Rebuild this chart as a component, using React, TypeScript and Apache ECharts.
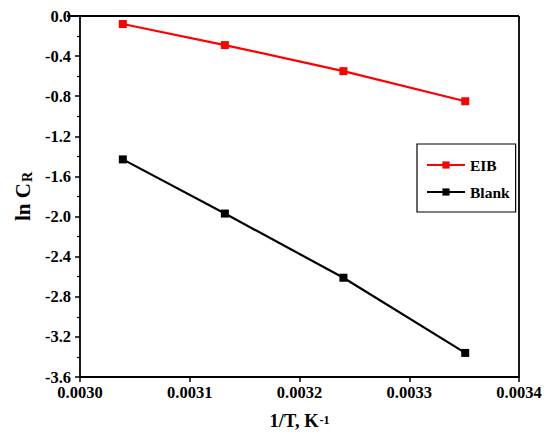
import React, { useEffect, useRef } from "react";
import * as echarts from "echarts";

const xValues = [0.003039, 0.003132, 0.00324, 0.003351];
const eibValues = [-0.08, -0.29, -0.55, -0.85];
const blankValues = [-1.43, -1.97, -2.61, -3.36];
const seriesNames = ["EIB", "Blank"];
const seriesColors = ["#ff0000", "#000000"];

const FONT = "'Liberation Serif', 'Times New Roman', serif";

export default function App() {
  const ref = useRef<HTMLDivElement>(null);
  useEffect(() => {
    if (!ref.current) return;
    const chart = echarts.init(ref.current, null, { renderer: "svg" });
    const mk = (vals: number[]) => xValues.map((x, i) => [x, vals[i]]);
    chart.setOption({
      animation: false,
      backgroundColor: "#ffffff",
      grid: { left: 67, right: 31, top: 16, bottom: 59, show: false },
      legend: {
        orient: "vertical",
        left: 417,
        top: 144,
        padding: [13, 6, 12, 9],
        borderColor: "#000",
        borderWidth: 1.2,
        itemWidth: 38,
        itemHeight: 9,
        itemGap: 11,
        textStyle: { fontFamily: FONT, fontWeight: "bold", fontSize: 15.5, color: "#000" },
        data: seriesNames,
      },
      xAxis: {
        type: "value",
        min: 0.003,
        max: 0.0034,
        interval: 0.0001,
        name: "{a|1/T, K}{b|-1}",
        nameLocation: "middle",
        nameGap: 25,
        nameTextStyle: {
          rich: {
            a: { fontFamily: FONT, fontWeight: "bold", fontSize: 18.5, color: "#000", lineHeight: 20, verticalAlign: "bottom", padding: [6, 0, 0, 0] },
            b: { fontFamily: FONT, fontWeight: "bold", fontSize: 12, color: "#000", lineHeight: 12, verticalAlign: "top", padding: [3, 0, 0, 1] },
          },
        },
        axisLine: { show: true, onZero: false, lineStyle: { color: "#000", width: 1.8 } },
        axisTick: { show: true, inside: false, length: 5, lineStyle: { color: "#000", width: 1.5 } },
        minorTick: { show: false },
        splitLine: { show: false },
        axisLabel: {
          margin: 7,
          fontFamily: FONT,
          fontWeight: "bold",
          fontSize: 16.5,
          color: "#000",
          formatter: (v: number) => v.toFixed(4),
        },
      },
      yAxis: {
        type: "value",
        min: -3.6,
        max: 0,
        interval: 0.4,
        name: "{a|ln C}{b|R}",
        nameLocation: "middle",
        nameRotate: 90,
        nameGap: 44,
        nameTextStyle: {
          rich: {
            a: { fontFamily: FONT, fontWeight: "bold", fontSize: 21, color: "#000", lineHeight: 22, verticalAlign: "top" },
            b: { fontFamily: FONT, fontWeight: "bold", fontSize: 14, color: "#000", lineHeight: 14, verticalAlign: "bottom", padding: [12, 0, 0, 1] },
          },
        },
        axisLine: { show: true, onZero: false, lineStyle: { color: "#000", width: 1.8 } },
        axisTick: { show: true, inside: false, length: 5, lineStyle: { color: "#000", width: 1.5 } },
        minorTick: { show: true, splitNumber: 2, length: 3, lineStyle: { color: "#000", width: 1.2 } },
        splitLine: { show: false },
        axisLabel: {
          margin: 9,
          fontFamily: FONT,
          fontWeight: "bold",
          fontSize: 16.5,
          color: "#000",
          formatter: (v: number) => v.toFixed(1),
        },
      },
      graphic: [
        {
          type: "line",
          shape: { x1: 67, y1: 16, x2: 519, y2: 16 },
          style: { stroke: "#000", lineWidth: 1.8 },
        },
        {
          type: "line",
          shape: { x1: 519, y1: 16, x2: 519, y2: 377 },
          style: { stroke: "#000", lineWidth: 1.8 },
        },
      ],
      series: [
        {
          name: seriesNames[0],
          type: "line",
          data: mk(eibValues),
          symbol: "rect",
          symbolSize: 8,
          color: seriesColors[0],
          lineStyle: { width: 2.2, color: seriesColors[0] },
          itemStyle: { color: seriesColors[0] },
        },
        {
          name: seriesNames[1],
          type: "line",
          data: mk(blankValues),
          symbol: "rect",
          symbolSize: 8,
          color: seriesColors[1],
          lineStyle: { width: 2.2, color: seriesColors[1] },
          itemStyle: { color: seriesColors[1] },
        },
      ],
    });
    return () => chart.dispose();
  }, []);
  return <div ref={ref} style={{ position: "absolute", left: 0, top: 0, width: 550, height: 436 }} />;
}
